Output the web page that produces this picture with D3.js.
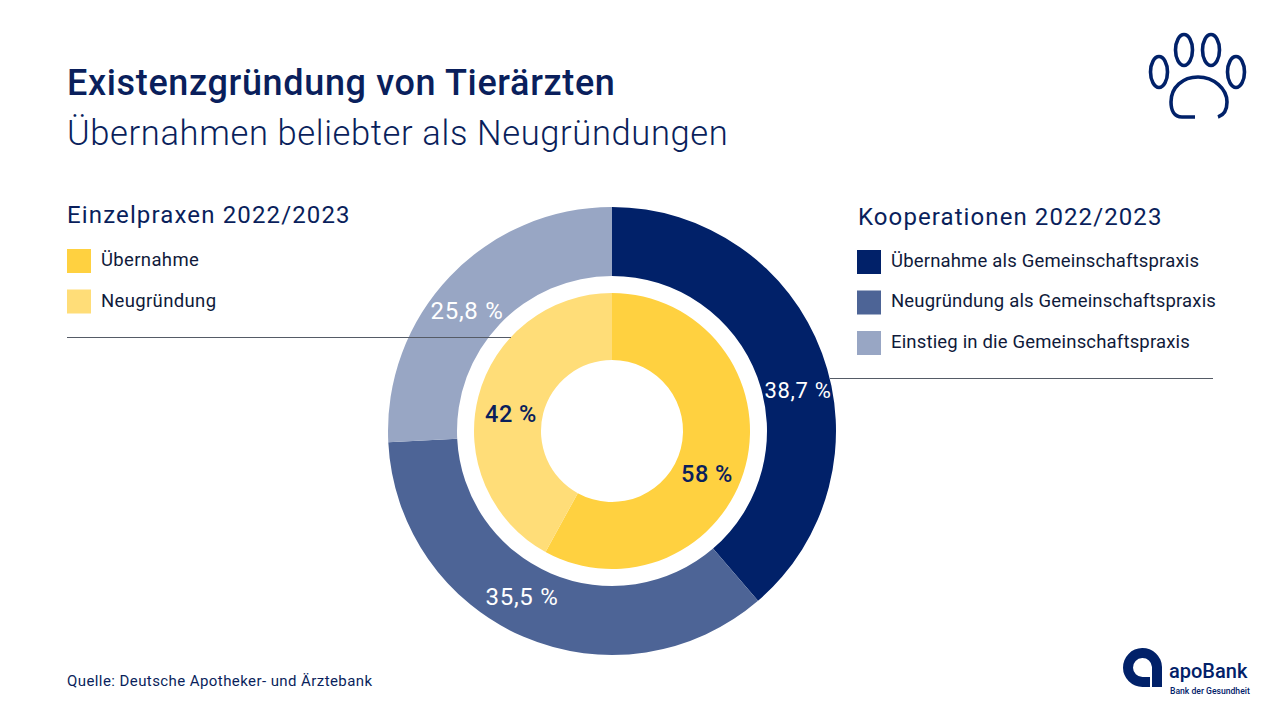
<!DOCTYPE html>
<html><head><meta charset="utf-8"><style>html,body{margin:0;background:#fff}svg{display:block}text{font-family:Roboto,sans-serif}</style>
<script src="https://cdnjs.cloudflare.com/ajax/libs/d3/7.8.5/d3.min.js"></script></head><body>
<svg id="c" width="1280" height="720"></svg>
<script>
const outerLabels=["Übernahme als Gemeinschaftspraxis","Neugründung als Gemeinschaftspraxis","Einstieg in die Gemeinschaftspraxis"];
const outerValues=[38.7,35.5,25.8];
const outerText=["38,7 %","35,5 %","25,8 %"];
const outerColors=["#012169","#4d6496","#98a6c4"];
const innerLabels=["Übernahme","Neugründung"];
const innerValues=[58,42];
const innerText=["58 %","42 %"];
const innerColors=["#ffd140","#ffdd78"];
const navy="#0a1f5c";
const svg=d3.select("#c");
function t(x,y,s,size,o={}){return svg.append("text").attr("x",x).attr("y",y).text(s).attr("font-size",size).attr("fill",o.fill||navy).attr("font-weight",o.w||400).attr("letter-spacing",o.ls||0).attr("text-anchor",o.a||"start");}
t(67,95,"Existenzgründung von Tierärzten",36,{w:500,ls:0.65});
t(67,145,"Übernahmen beliebter als Neugründungen",34.5,{w:300,ls:0.64});
t(67,222.5,"Einzelpraxen 2022/2023",24,{ls:1.14});
t(858,224.5,"Kooperationen 2022/2023",24,{ls:1.09});
const c=[612,431];
const pie=d3.pie().sort(null).value(d=>d);
const gO=svg.append("g").attr("transform",`translate(${c})`);
const gI=svg.append("g").attr("transform",`translate(${c})`);
const arcO=d3.arc().innerRadius(155).outerRadius(224);
const arcI=d3.arc().innerRadius(71).outerRadius(138);
gO.selectAll("path").data(pie(outerValues)).join("path").attr("d",arcO).attr("fill",(d,i)=>outerColors[i]);
gI.selectAll("path").data(pie(innerValues)).join("path").attr("d",arcI).attr("fill",(d,i)=>innerColors[i]);
svg.append("line").attr("x1",67).attr("x2",511).attr("y1",337.5).attr("y2",337.5).attr("stroke","#555b66").attr("stroke-width",1);
svg.append("line").attr("x1",830).attr("x2",1213).attr("y1",378.5).attr("y2",378.5).attr("stroke","#555b66").attr("stroke-width",1);
const oPos=[[798,398],[522,605],[467,319]];
const oSize=[22,24,24];
const iPos=[[707,482],[511,422]];
outerText.forEach((s,i)=>t(oPos[i][0],oPos[i][1],s,oSize[i],{fill:"#fff",a:"middle",ls:0.7}));
innerText.forEach((s,i)=>t(iPos[i][0],iPos[i][1],s,23.5,{fill:navy,a:"middle",w:500,ls:0.5}));
innerLabels.forEach((s,i)=>{const y=249+40.5*i;
 svg.append("rect").attr("x",67).attr("y",y).attr("width",24).attr("height",24).attr("fill",innerColors[i]);
 t(101,y+17,s,18.5,{fill:"#101a3a",ls:0.35});});
outerLabels.forEach((s,i)=>{const y=250+40.5*i;
 svg.append("rect").attr("x",857).attr("y",y).attr("width",24).attr("height",24).attr("fill",outerColors[i]);
 t(891,y+16.5,s,18.5,{fill:"#101a3a",ls:0.17});});
t(67,686,"Quelle: Deutsche Apotheker- und Ärztebank",15,{ls:0.42});
const paw=svg.append("g").attr("fill","none").attr("stroke","#012169").attr("stroke-width",3.6);
[[1159,72,8.5,15.5],[1184,50,8.5,15.5],[1211,50,8.5,15.5],[1236,72,8.5,15.5]].forEach(e=>paw.append("ellipse").attr("cx",e[0]).attr("cy",e[1]).attr("rx",e[2]).attr("ry",e[3]));
paw.append("path").attr("d","M1195 117 H1182 C1174 117 1171 110 1171 102 C1171 87 1183 77 1198 77 C1214 77 1227 89 1227 102 C1227 109 1224 115 1218 117");
const logo=svg.append("g").attr("fill","#012169");
logo.append("path").attr("fill-rule","evenodd").attr("d","M1162 687 V667 A19.5 19.5 0 1 0 1142.5 687 H1150 V677 H1142.5 A9.5 9.5 0 1 1 1152 667 V687 Z");
t(1169,678,"apoBank",20,{fill:"#012169",w:500});
t(1170,694,"Bank der Gesundheit",8.6,{fill:"#012169",w:500});
</script></body></html>
